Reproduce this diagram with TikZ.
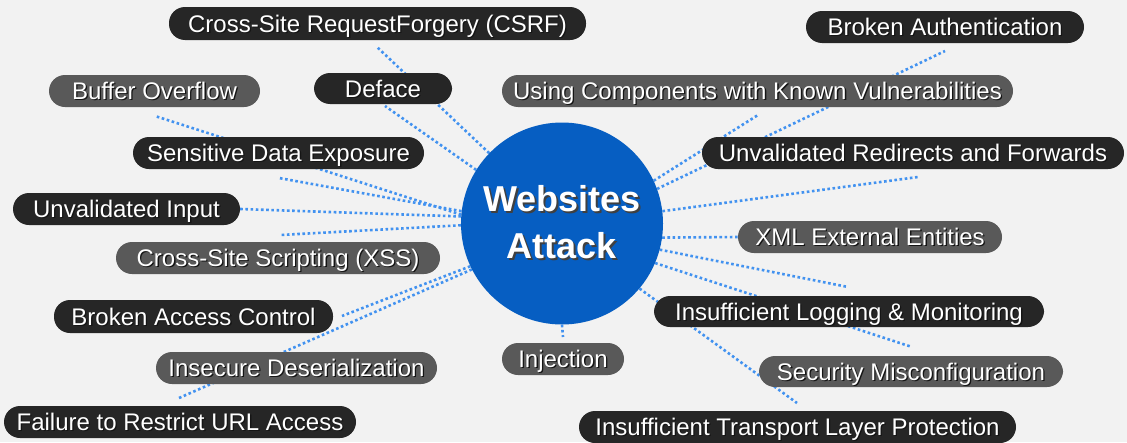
\documentclass[tikz,border=0pt]{standalone}
\usepackage{fontspec}
\setmainfont{Liberation Sans}
\usetikzlibrary{backgrounds}
\definecolor{bgc}{HTML}{F2F2F2}
\definecolor{circc}{RGB}{6,94,194}
\definecolor{darkb}{HTML}{262626}
\definecolor{greyb}{HTML}{595959}
\definecolor{dotc}{RGB}{66,146,240}
\definecolor{shc}{HTML}{151515}
\newcommand\shtxt[1]{\rlap{\kern1.3pt\raisebox{-1.3pt}{\color{shc}#1}}#1}
\newcommand\shtxtb[1]{\rlap{\kern2pt\raisebox{-2pt}{\color{black!75}#1}}#1}
\tikzset{
  pill/.style={rounded corners=16pt, inner xsep=0pt, inner ysep=0pt, minimum height=32pt,
    text height=17.2pt, text depth=0pt, text=white, font=\fontsize{24}{28}\selectfont},
  darkpill/.style={pill, fill=darkb},
  greypill/.style={pill, fill=greyb},
  dotline/.style={draw=dotc, line width=2.6pt, dash pattern=on 2.6pt off 2.6pt},
  hub/.style={circle, fill=circc, minimum size=202pt, inner sep=0pt, text=white,
    align=center, font=\fontsize{36}{47}\selectfont\bfseries},
}
\begin{document}
\begin{tikzpicture}[x=1pt,y=-1pt]
\useasboundingbox (0,0) rectangle (1127,442);

% hub
\node[hub] (c) at (562,223.5) {\shtxtb{Websites}\\\shtxtb{Attack}};

% left boxes
\node[darkpill, minimum width=417pt, minimum height=33pt] (csrf) at (377.5,23.5) {\shtxt{Cross-Site RequestForgery (CSRF)}\hspace{12pt}};
\node[greypill, minimum width=211pt] (buf) at (154.5,91) {\shtxt{Buffer Overflow}\hspace{6pt}};
\node[darkpill, minimum width=138pt, minimum height=31pt] (def) at (383,88.5) {\shtxt{Deface}};
\node[darkpill, minimum width=291pt] (sde) at (278.5,153) {\shtxt{Sensitive Data Exposure}};
\node[darkpill, minimum width=227pt] (ui) at (126.5,209) {\shtxt{Unvalidated Input}};
\node[greypill, minimum width=324pt] (xss) at (278,258) {\shtxt{Cross-Site Scripting (XSS)}};
\node[darkpill, minimum width=279pt, minimum height=33pt] (bac) at (193.5,316.5) {\shtxt{Broken Access Control}\hspace{14pt}};
\node[greypill, minimum width=281pt] (ides) at (296.5,368) {\shtxt{Insecure Deserialization}};
\node[darkpill, minimum width=352pt] (fail) at (180,422) {\shtxt{Failure to Restrict URL Access}};
\node[greypill, minimum width=122pt] (inj) at (563,359) {\shtxt{Injection}\hspace{6pt}};

% right boxes
\node[darkpill, minimum width=278pt] (bauth) at (945,27) {\shtxt{Broken Authentication}};
\node[greypill, minimum width=511pt] (ucomp) at (757.5,91) {\shtxt{Using Components with Known Vulnerabilities}};
\node[darkpill, minimum width=422pt] (urf) at (913,153) {\shtxt{Unvalidated Redirects and Forwards}};
\node[greypill, minimum width=264pt] (xml) at (870,237) {\shtxt{XML External Entities}};
\node[darkpill, minimum width=390pt, minimum height=31pt] (logm) at (849,311.5) {\shtxt{Insufficient Logging \& Monitoring}\hspace{4pt}};
\node[greypill, minimum width=304pt, minimum height=31pt] (sec) at (911,371.5) {\shtxt{Security Misconfiguration}\hspace{12pt}};
\node[darkpill, minimum width=437pt] (tlp) at (797.5,427) {\shtxt{Insufficient Transport Layer Protection}\hspace{14pt}};

% free ends of connectors
\coordinate (e1) at (377,47);
\coordinate (e2) at (385,106);
\coordinate (e3) at (155,116);
\coordinate (e4) at (279,178);
\coordinate (e6) at (280,235);
\coordinate (e7) at (342,316);
\coordinate (e8) at (179,398);
\coordinate (eA) at (758,115);
\coordinate (eB) at (945,51);
\coordinate (eC) at (918,177);
\coordinate (eD) at (848,287);
\coordinate (eE) at (912,347);
\coordinate (eF) at (797,403);
\coordinate (eI) at (563,337);

\begin{scope}[on background layer]
\fill[bgc] (0,0) rectangle (1127,442);
\draw[dotline] (c.136) -- (e1);
\draw[dotline] (c.148) -- (e2);
\draw[dotline] (c.175) -- (e3);
\draw[dotline] (c.173) -- (e4);
\draw[dotline] (c.176) -- (ui.east);
\draw[dotline] (c.181) -- (e6);
\draw[dotline] (c.205) -- (e7);
\draw[dotline] (c.207) -- (e8);
\draw[dotline] (c.25) -- (eA);
\draw[dotline] (c.20) -- (eB);
\draw[dotline] (c.7) -- (eC);
\draw[dotline] (c.352) -- (xml.west);
\draw[dotline] (c.345) -- (eD);
\draw[dotline] (c.337) -- (eE);
\draw[dotline] (c.320) -- (eF);
\draw[dotline] (c.270) -- (eI);
\end{scope}
\end{tikzpicture}
\end{document}
